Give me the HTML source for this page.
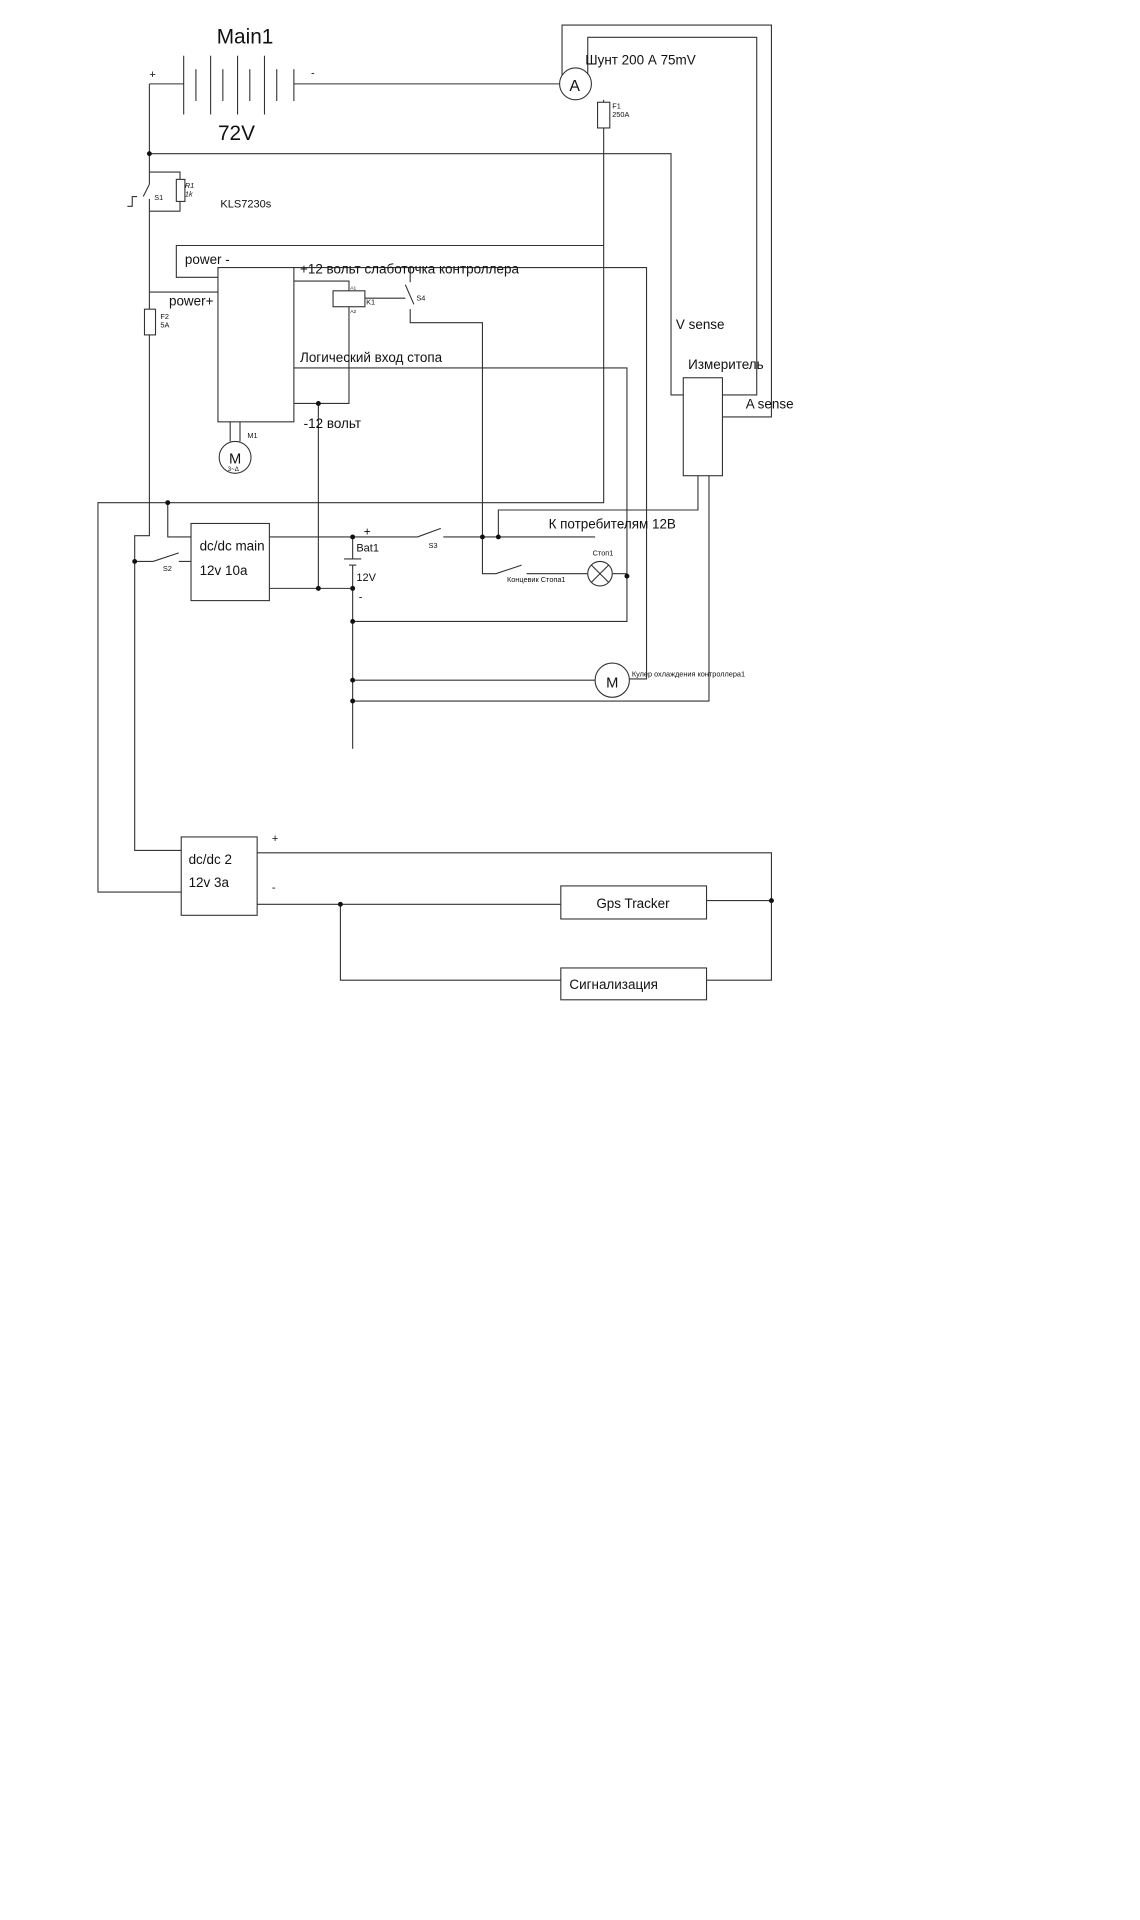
<!DOCTYPE html>
<html><head><meta charset="utf-8"><style>html,body{margin:0;padding:0;background:#fff}svg{display:block}</style></head>
<body>
<svg width="1140" height="1920" viewBox="0 0 931 1567" xmlns="http://www.w3.org/2000/svg" font-family="Liberation Sans, DejaVu Sans, sans-serif">
<rect width="931" height="1567" fill="#fff"/>
<g stroke="#333" stroke-width="0.9" fill="none">
<line x1="122" y1="68" x2="150" y2="68"/>
<line x1="150" y1="45" x2="150" y2="93"/><line x1="160" y1="56" x2="160" y2="82"/>
<line x1="172" y1="45" x2="172" y2="93"/><line x1="182" y1="56" x2="182" y2="82"/>
<line x1="194" y1="45" x2="194" y2="93"/><line x1="204" y1="56" x2="204" y2="82"/>
<line x1="216" y1="45" x2="216" y2="93"/><line x1="226" y1="56" x2="226" y2="82"/>
<line x1="240" y1="56" x2="240" y2="82"/>
<line x1="240" y1="68" x2="457" y2="68"/>
<circle cx="470" cy="68" r="13"/>
<polyline points="459,61 459,20 630,20 630,340 590,340"/>
<polyline points="480,60 480,30 618,30 618,322 590,322"/>
<line x1="493" y1="81" x2="493" y2="83"/>
<rect x="488" y="83" width="10" height="21"/>
<polyline points="493,104 493,410 80,410 80,728 148,728"/>
<polyline points="122,68 122,140"/>
<polyline points="122,140 147,140 147,146"/>
<rect x="144" y="146" width="7" height="18"/>
<polyline points="147,164 147,172 122,172"/>
<line x1="122" y1="140" x2="122" y2="150"/>
<line x1="122" y1="150" x2="117" y2="160"/>
<line x1="122" y1="162" x2="122" y2="172"/>
<polyline points="104,168 108,168 108,160 112,160"/>
<polyline points="122,172 122,252"/>
<rect x="118" y="252" width="9" height="21"/>
<polyline points="122,273 122,437 110,437 110,694 148,694"/>
<line x1="122" y1="238" x2="178" y2="238"/>
<polyline points="122,125 548,125 548,322 558,322"/>
<polyline points="493,200 144,200 144,226 178,226"/>
<rect x="178" y="218" width="62" height="126"/>
<line x1="188" y1="344" x2="188" y2="360"/><line x1="196" y1="344" x2="196" y2="360"/>
<circle cx="192" cy="373" r="13"/>
<polyline points="240,218 528,218 528,554 514,554"/>
<polyline points="240,229 285,229 285,237"/>
<rect x="272" y="237" width="26" height="13"/>
<polyline points="285,250 285,329 240,329"/>
<line x1="260" y1="329" x2="260" y2="480"/>
<polyline points="298,243 331,243"/>
<line x1="331" y1="232" x2="338" y2="248"/>
<line x1="335" y1="218" x2="335" y2="230"/>
<polyline points="335,252 335,263 394,263 394,468 405,468"/>
<line x1="405" y1="468" x2="426" y2="461"/>
<line x1="430" y1="468" x2="480" y2="468"/>
<circle cx="490" cy="468" r="10"/>
<line x1="483" y1="461" x2="497" y2="475"/><line x1="497" y1="461" x2="483" y2="475"/>
<line x1="500" y1="468" x2="512" y2="468"/>
<polyline points="240,300 512,300 512,507 288,507"/>
<polyline points="137,410 137,438 156,438"/>
<rect x="156" y="427" width="64" height="63"/>
<line x1="110" y1="458" x2="125" y2="458"/>
<line x1="125" y1="458" x2="146" y2="451"/>
<line x1="146" y1="458" x2="156" y2="458"/>
<line x1="220" y1="438" x2="341" y2="438"/>
<line x1="341" y1="438" x2="360" y2="431"/>
<line x1="362" y1="438" x2="486" y2="438"/>
<line x1="220" y1="480" x2="288" y2="480"/>
<line x1="288" y1="438" x2="288" y2="456"/>
<line x1="281" y1="456" x2="295" y2="456"/>
<line x1="285" y1="461" x2="291" y2="461"/>
<line x1="288" y1="461" x2="288" y2="611"/>
<polyline points="407,438 407,416 570,416 570,388"/>
<rect x="558" y="308" width="32" height="80"/>
<line x1="288" y1="555" x2="486" y2="555"/>
<circle cx="500" cy="555" r="14"/>
<polyline points="288,572 579,572 579,388"/>
<rect x="148" y="683" width="62" height="64"/>
<polyline points="210,696 630,696 630,800 577,800"/>
<line x1="210" y1="738" x2="458" y2="738"/>
<rect x="458" y="723" width="119" height="27"/>
<line x1="577" y1="735" x2="630" y2="735"/>
<polyline points="278,738 278,800 458,800"/>
<rect x="458" y="790" width="119" height="26"/>
</g>
<g fill="#111">
<circle cx="122" cy="125" r="2"/><circle cx="137" cy="410" r="2"/><circle cx="110" cy="458" r="2"/>
<circle cx="260" cy="329" r="2"/><circle cx="260" cy="480" r="2"/><circle cx="288" cy="438" r="2"/><circle cx="288" cy="480" r="2"/>
<circle cx="394" cy="438" r="2"/><circle cx="407" cy="438" r="2"/><circle cx="512" cy="470" r="2"/>
<circle cx="288" cy="507" r="2"/><circle cx="288" cy="555" r="2"/><circle cx="288" cy="572" r="2"/>
<circle cx="278" cy="738" r="2"/><circle cx="630" cy="735" r="2"/>
</g>
<g fill="#111">
<text x="177" y="35" font-size="17">Main1</text>
<text x="178" y="114" font-size="17">72V</text>
<text x="122" y="63" font-size="9">+</text>
<text x="254" y="62" font-size="9">-</text>
<text x="465" y="74" font-size="13">A</text>
<text x="478" y="52" font-size="11">Шунт 200 А 75mV</text>
<text x="500" y="88" font-size="6">F1</text><text x="500" y="95" font-size="6">250A</text>
<text x="126" y="163" font-size="6">S1</text>
<text x="151" y="153" font-size="6" font-style="italic">R1</text><text x="151" y="160" font-size="6" font-style="italic">1k</text>
<text x="180" y="169" font-size="9">KLS7230s</text>
<text x="151" y="215" font-size="11">power -</text>
<text x="138" y="249" font-size="11">power+</text>
<text x="131" y="260" font-size="6">F2</text><text x="131" y="267" font-size="6">5A</text>
<text x="245" y="223" font-size="11">+12 вольт слаботочка контроллера</text>
<text x="286" y="236" font-size="4">A1</text><text x="286" y="255" font-size="4">A2</text>
<text x="299" y="248" font-size="6">K1</text>
<text x="340" y="245" font-size="6">S4</text>
<text x="245" y="295" font-size="11">Логический вход стопа</text>
<text x="248" y="349" font-size="11">-12 вольт</text>
<text x="202" y="357" font-size="6">M1</text>
<text x="187" y="378" font-size="12">M</text><text x="186" y="384" font-size="5">3~Δ</text>
<text x="552" y="268" font-size="11">V sense</text>
<text x="562" y="301" font-size="11">Измеритель</text>
<text x="609" y="333" font-size="11">A sense</text>
<text x="163" y="449" font-size="11">dc/dc main</text>
<text x="163" y="469" font-size="11">12v 10a</text>
<text x="133" y="466" font-size="6">S2</text>
<text x="297" y="437" font-size="10">+</text>
<text x="291" y="450" font-size="9">Bat1</text>
<text x="291" y="474" font-size="9">12V</text>
<text x="293" y="490" font-size="9">-</text>
<text x="350" y="447" font-size="6">S3</text>
<text x="448" y="431" font-size="11">К потребителям 12В</text>
<text x="484" y="453" font-size="6">Стоп1</text>
<text x="414" y="475" font-size="6">Концевик Стопа1</text>
<text x="495" y="561" font-size="12">M</text>
<text x="516" y="552" font-size="6">Кулер охлаждения контроллера1</text>
<text x="222" y="687" font-size="9">+</text>
<text x="222" y="727" font-size="9">-</text>
<text x="154" y="705" font-size="11">dc/dc 2</text>
<text x="154" y="724" font-size="11">12v 3a</text>
<text x="487" y="741" font-size="11">Gps Tracker</text>
<text x="465" y="807" font-size="11">Сигнализация</text>
</g>
</svg>
</body></html>
